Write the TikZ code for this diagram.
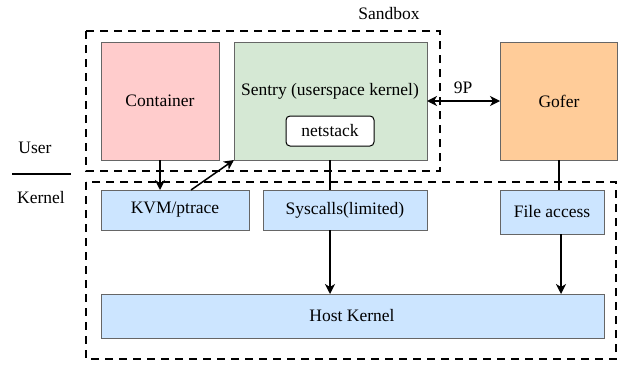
\documentclass[tikz,border=0pt]{standalone}
\usepackage{fontspec}
\setmainfont{Liberation Serif}
\usetikzlibrary{arrows.meta}
\definecolor{pinkf}{HTML}{FFCCCC}
\definecolor{greenf}{HTML}{D5E8D4}
\definecolor{orangef}{HTML}{FFCC99}
\definecolor{bluef}{HTML}{CCE5FF}
\definecolor{bord}{HTML}{666666}
\begin{document}
\begin{tikzpicture}[x=1pt,y=-1pt,
  every node/.style={font=\fontsize{17.5}{20}\selectfont},
  box/.style={draw=bord,line width=1pt,inner sep=0pt},
  zone/.style={draw=black,line width=2.5pt,dash pattern=on 8pt off 6pt},
  tip/.style={},
  arr/.style={draw=black,line width=1.5pt,-{Stealth[length=10pt,width=10pt,inset=3pt]}},
  link/.style={draw=black,line width=1.3pt},
  lbl/.style={inner sep=0pt}]
\useasboundingbox (0,0) rectangle (618,364);
% zones
\draw[zone] (86,31) rectangle (440,171);
\draw[zone] (86,182) rectangle (616,359);
% boxes
\path[box,fill=pinkf] (101,42) rectangle (219,160);
\node[lbl] (cont) at (160,101) {Container};
\coordinate (contS) at (160,160);
\path[box,fill=greenf] (234,42) rectangle (427,160);
\coordinate (sentSW) at (234,160);
\coordinate (sentS) at (330,160);
\coordinate (sentE) at (427,101);
\node[lbl] (sent) at (330,91) {Sentry (userspace kernel)};
\node[draw=black,line width=1pt,fill=white,rounded corners=4pt,minimum width=88pt,minimum height=30pt,inner sep=0pt] (net) at (330,131) {netstack};
\path[box,fill=orangef] (500,42) rectangle (617,160);
\node[lbl] (gof) at (559,101) {Gofer};
\coordinate (gofW) at (500,101);
\coordinate (gofS) at (559,160);
\node[lbl] (sand) at (389,14) {Sandbox};
\node[lbl] (p9) at (463,88) {9P};
\node[lbl] (user) at (35,148) {User};
\node[lbl] (kern) at (41,198) {Kernel};
\draw[line width=2.2pt] (12,174) -- (71,174);
% kernel boxes
\path[box,fill=bluef] (101,190) rectangle (249,230);
\node[lbl] (kvm) at (175,210) {KVM/ptrace};
\coordinate (kvmA) at (160,190);
\coordinate (kvmB) at (191,190);
\path[box,fill=bluef] (263,190) rectangle (427,230);
\node[lbl] (sys) at (345,210) {Syscalls(limited)};
\coordinate (sysT) at (330,190);
\coordinate (sysB) at (330,230);
\path[box,fill=bluef] (500,190) rectangle (604,234);
\node[lbl] (file) at (552,212) {File access};
\coordinate (fileT) at (559,190);
\coordinate (fileB) at (561,234);
\path[box,fill=bluef] (101,294) rectangle (604,338);
\node[lbl] (host) at (352,316) {Host Kernel};
\coordinate (hostA) at (330,294);
\coordinate (hostB) at (561,294);
% connectors
\draw[arr] (contS) -- (kvmA);
\draw[arr] (kvmB) -- (sentSW);
\draw[link] (sentS) -- (sysT);
\draw[arr] (sysB) -- (hostA);
\draw[link] (gofS) -- (fileT);
\draw[arr] (fileB) -- (hostB);
\draw[line width=1.5pt,{Stealth[length=10pt,width=10pt,inset=3pt]}-{Stealth[length=10pt,width=10pt,inset=3pt]}] (sentE) -- (gofW);
\end{tikzpicture}
\end{document}
